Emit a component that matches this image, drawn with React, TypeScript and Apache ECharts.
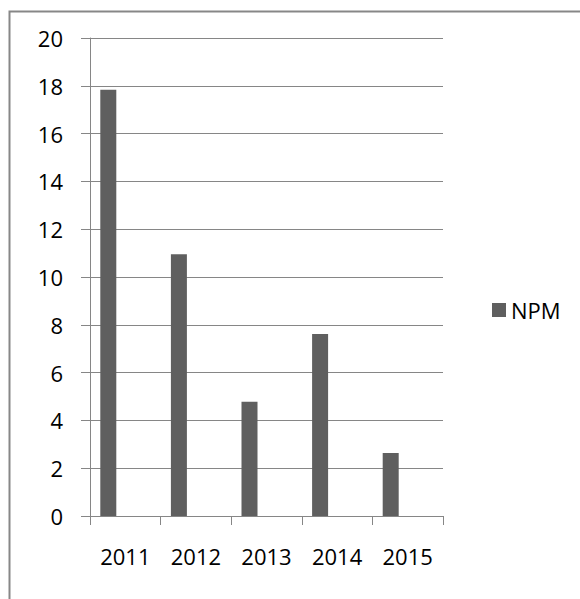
import React, { useEffect, useRef } from "react";
import * as echarts from "echarts";

const years = ["2011", "2012", "2013", "2014", "2015"];
const npm = [17.83, 10.95, 4.78, 7.61, 2.64];
const spacer = ["-", "-", "-", "-", "-"];

const GRID = "#868686";
const BAR = "#5f5f5f";
const FONT = "'Open Sans', 'Noto Sans', sans-serif";

export default function App() {
  const ref = useRef<HTMLDivElement>(null);

  useEffect(() => {
    if (!ref.current) return;
    const chart = echarts.init(ref.current, null, { renderer: "svg" });
    chart.setOption({
      animation: false,
      backgroundColor: "#ffffff",
      textStyle: { fontFamily: FONT },
      graphic: [
        {
          type: "rect",
          left: 7,
          top: 9,
          shape: { x: 0, y: 0, width: 700, height: 700 },
          style: { fill: "none", stroke: "#878787", lineWidth: 2 },
          silent: true,
        },
      ],
      grid: { left: 90, right: 137, top: 38, bottom: 83, containLabel: false },
      legend: {
        data: ["NPM"],
        left: 487,
        top: 294,
        icon: "rect",
        itemWidth: 14,
        itemHeight: 14,
        textStyle: { fontSize: 22, color: "#000", fontFamily: FONT },
      },
      xAxis: {
        type: "category",
        data: years,
        boundaryGap: true,
        axisLine: { show: true, lineStyle: { color: GRID, width: 1 } },
        axisTick: { show: true, length: 9, alignWithLabel: false, lineStyle: { color: GRID } },
        axisLabel: { fontSize: 22, color: "#000", margin: 29, fontFamily: FONT },
        splitLine: { show: false },
      },
      yAxis: {
        type: "value",
        min: 0,
        max: 20,
        interval: 2,
        axisLine: { show: true, lineStyle: { color: GRID, width: 1 } },
        axisTick: { show: true, length: 9, lineStyle: { color: GRID } },
        axisLabel: { fontSize: 22, color: "#000", margin: 27, fontFamily: FONT },
        splitLine: { show: true, lineStyle: { color: GRID, width: 1 } },
      },
      series: [
        {
          name: "NPM",
          type: "bar",
          data: npm,
          barWidth: 16,
          barGap: "112.5%",
          itemStyle: { color: BAR },
        },
        {
          name: "spacer",
          type: "bar",
          data: spacer,
          barWidth: 16,
          itemStyle: { color: "transparent" },
        },
      ],
    });
    return () => chart.dispose();
  }, []);

  return (
    <div
      ref={ref}
      style={{ position: "fixed", left: 0, top: 0, width: 580, height: 599 }}
    />
  );
}
